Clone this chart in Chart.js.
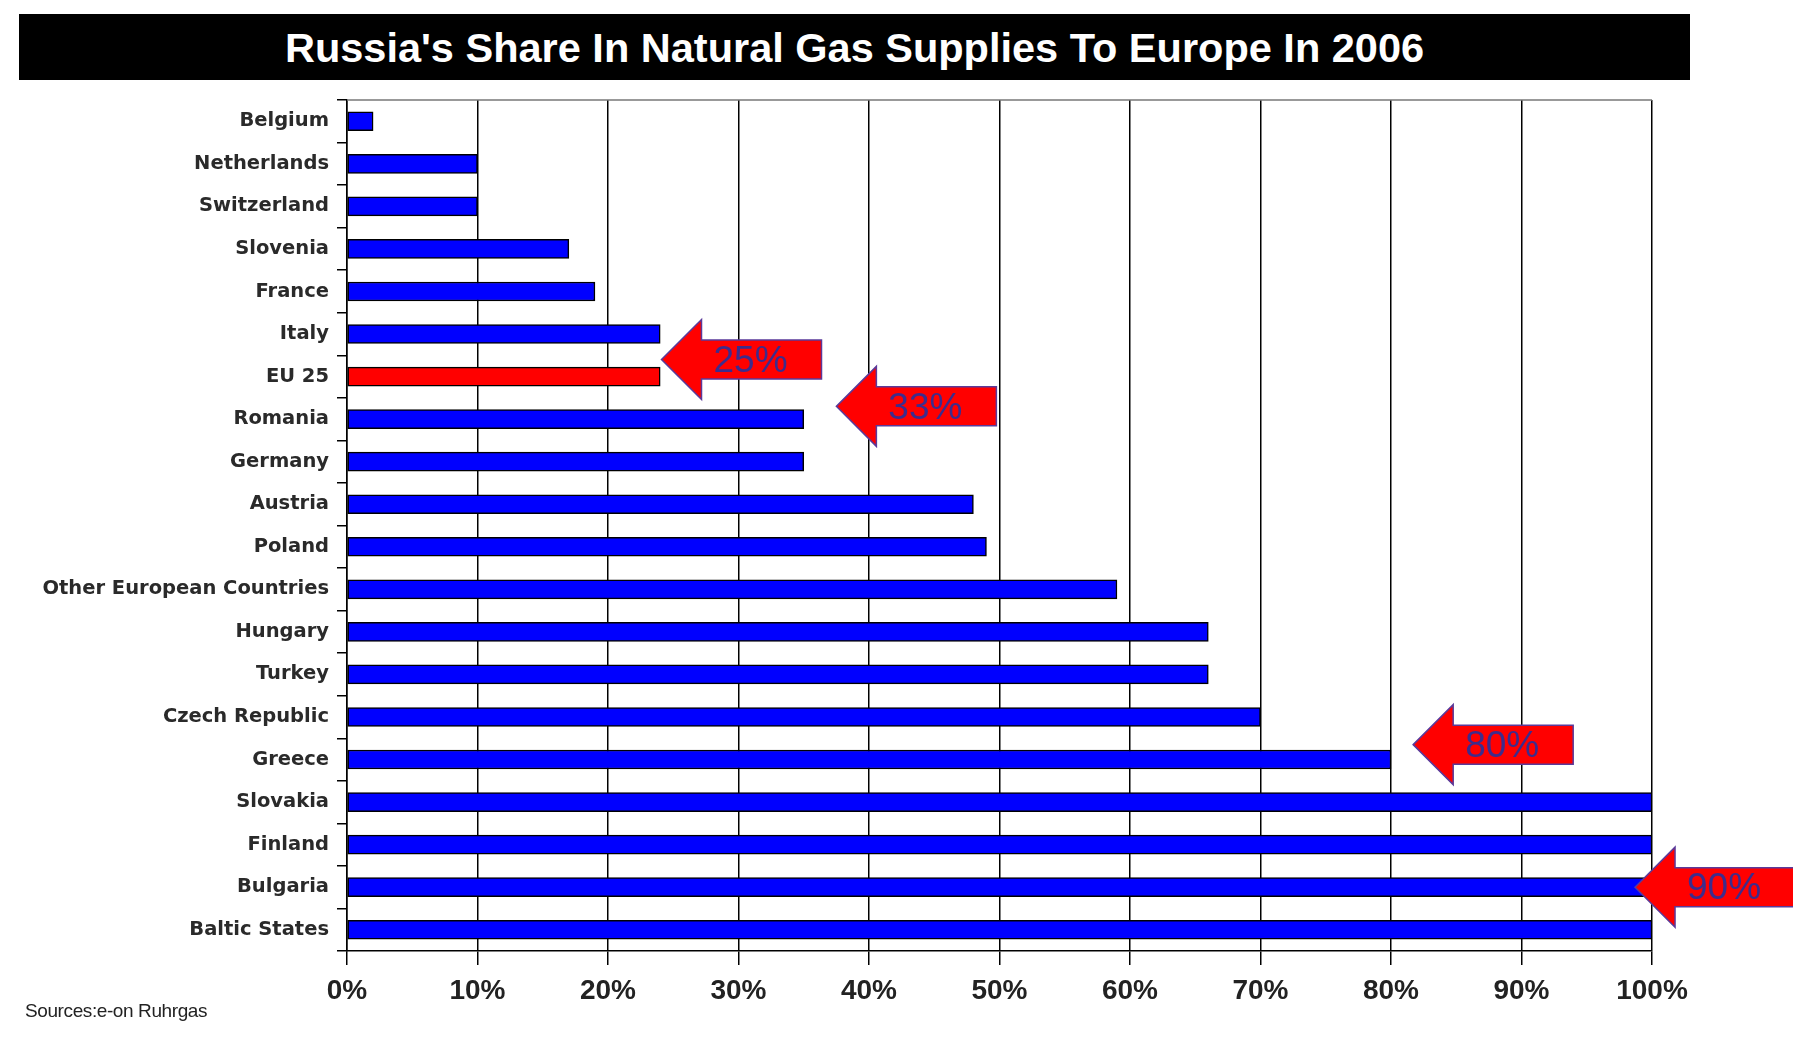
<!DOCTYPE html>
<html lang="en">
<head>
<meta charset="UTF-8">
<title>Russia's Share In Natural Gas Supplies To Europe In 2006</title>
<script src="https://cdn.jsdelivr.net/npm/chart.js"></script>
<style>
    html, body { margin: 0; padding: 0; background: #fff; }
    .wrap { position: relative; width: 1793px; height: 1037px; }
    .titleBar {
        position: absolute; left: 19px; top: 14px; width: 1671px; height: 66px;
        background: #000; color: #fff; text-align: center;
        font: bold 41.5px "Liberation Sans", Arial, sans-serif; line-height: 68px;
    }
    .source {
        position: absolute; left: 25px; top: 1000px;
        font: 19px "Liberation Sans", Arial, sans-serif; color: #222;
        letter-spacing: -0.4px;
    }
</style>
</head>
<body>
<div class="wrap">
    <canvas id="chart" width="1793" height="1037"></canvas>
    <div class="titleBar">Russia's Share In Natural Gas Supplies To Europe In 2006</div>
    <div class="source">Sources:e-on Ruhrgas</div>
</div>
<script>
    const countries = ["Belgium", "Netherlands", "Switzerland", "Slovenia", "France", "Italy", "EU 25",
        "Romania", "Germany", "Austria", "Poland", "Other European Countries", "Hungary", "Turkey",
        "Czech Republic", "Greece", "Slovakia", "Finland", "Bulgaria", "Baltic States"];
    const shares = [2, 10, 10, 17, 19, 24, 24, 35, 35, 48, 49, 59, 66, 66, 70, 80, 100, 100, 100, 100];
    const xTicks = [0, 10, 20, 30, 40, 50, 60, 70, 80, 90, 100];

    // callout arrows: label, value the tip points at, row (category index) of the tip
    const calloutLabels = ["25%", "33%", "80%", "90%"];
    const calloutTipValues = [24.1, 37.5, 81.7, 98.7];
    const calloutRows = [5.6, 6.7, 14.65, 18];

    const barColors = countries.map(c => c === "EU 25" ? "#ff0000" : "#0000ff");

    const arrows = {
        id: "arrows",
        afterDatasetsDraw(chart) {
            const { ctx, scales: { x, y } } = chart;
            ctx.save();
            calloutLabels.forEach((lab, i) => {
                const tx = x.getPixelForValue(calloutTipValues[i]);
                const ty = y.getPixelForValue(calloutRows[i]);
                const head = 40, headH = 40, bodyH = 19.5, bodyL = 120;
                ctx.beginPath();
                ctx.moveTo(tx, ty);
                ctx.lineTo(tx + head, ty - headH);
                ctx.lineTo(tx + head, ty - bodyH);
                ctx.lineTo(tx + head + bodyL, ty - bodyH);
                ctx.lineTo(tx + head + bodyL, ty + bodyH);
                ctx.lineTo(tx + head, ty + bodyH);
                ctx.lineTo(tx + head, ty + headH);
                ctx.closePath();
                ctx.fillStyle = "#ff0000";
                ctx.fill();
                ctx.lineWidth = 1.5;
                ctx.strokeStyle = "#5a3a9a";
                ctx.stroke();
                ctx.fillStyle = "#3d2c8c";
                ctx.font = "37px 'Liberation Sans', Arial, sans-serif";
                ctx.textAlign = "center";
                ctx.textBaseline = "middle";
                ctx.fillText(lab, tx + head + 49, ty + 2);
            });
            ctx.restore();
        },
        beforeDatasetsDraw(chart) {
            const { ctx, chartArea: { left, right, top } } = chart;
            ctx.save();
            ctx.strokeStyle = "#777";
            ctx.lineWidth = 1.5;
            ctx.beginPath();
            ctx.moveTo(left, top);
            ctx.lineTo(right, top);
            ctx.stroke();
            ctx.restore();
        }
    };

    new Chart(document.getElementById("chart"), {
        type: "bar",
        data: {
            labels: countries,
            datasets: [{
                data: shares,
                backgroundColor: barColors,
                borderColor: "#000",
                borderWidth: 1.5,
                borderSkipped: false,
                barThickness: 19
            }]
        },
        options: {
            indexAxis: "y",
            responsive: false,
            animation: false,
            layout: { padding: { left: 0, right: 141, top: 100, bottom: 0 } },
            plugins: { legend: { display: false }, tooltip: { enabled: false } },
            scales: {
                x: {
                    min: 0, max: 100,
                    afterBuildTicks(scale) { scale.ticks = xTicks.map(v => ({ value: v })); },
                    afterFit(scale) { scale.height = 86; },
                    border: { color: "#000", width: 1.5 },
                    grid: { color: "#000", lineWidth: 1.5, tickLength: 14 },
                    ticks: {
                        callback: v => v + "%",
                        color: "#222",
                        padding: 9,
                        maxRotation: 0,
                        font: { family: "'Liberation Sans', Arial", size: 28, weight: "bold" }
                    }
                },
                y: {
                    afterFit(scale) { scale.width = 347; },
                    border: { color: "#000", width: 1.5 },
                    grid: { offset: true, drawOnChartArea: false, color: "#000", lineWidth: 1.5, tickLength: 10 },
                    ticks: {
                        color: "#2a2a2a",
                        padding: 8,
                        font: { family: "'DejaVu Sans', sans-serif", size: 19.5, weight: "bold" }
                    }
                }
            }
        },
        plugins: [arrows]
    });
</script>
</body>
</html>
